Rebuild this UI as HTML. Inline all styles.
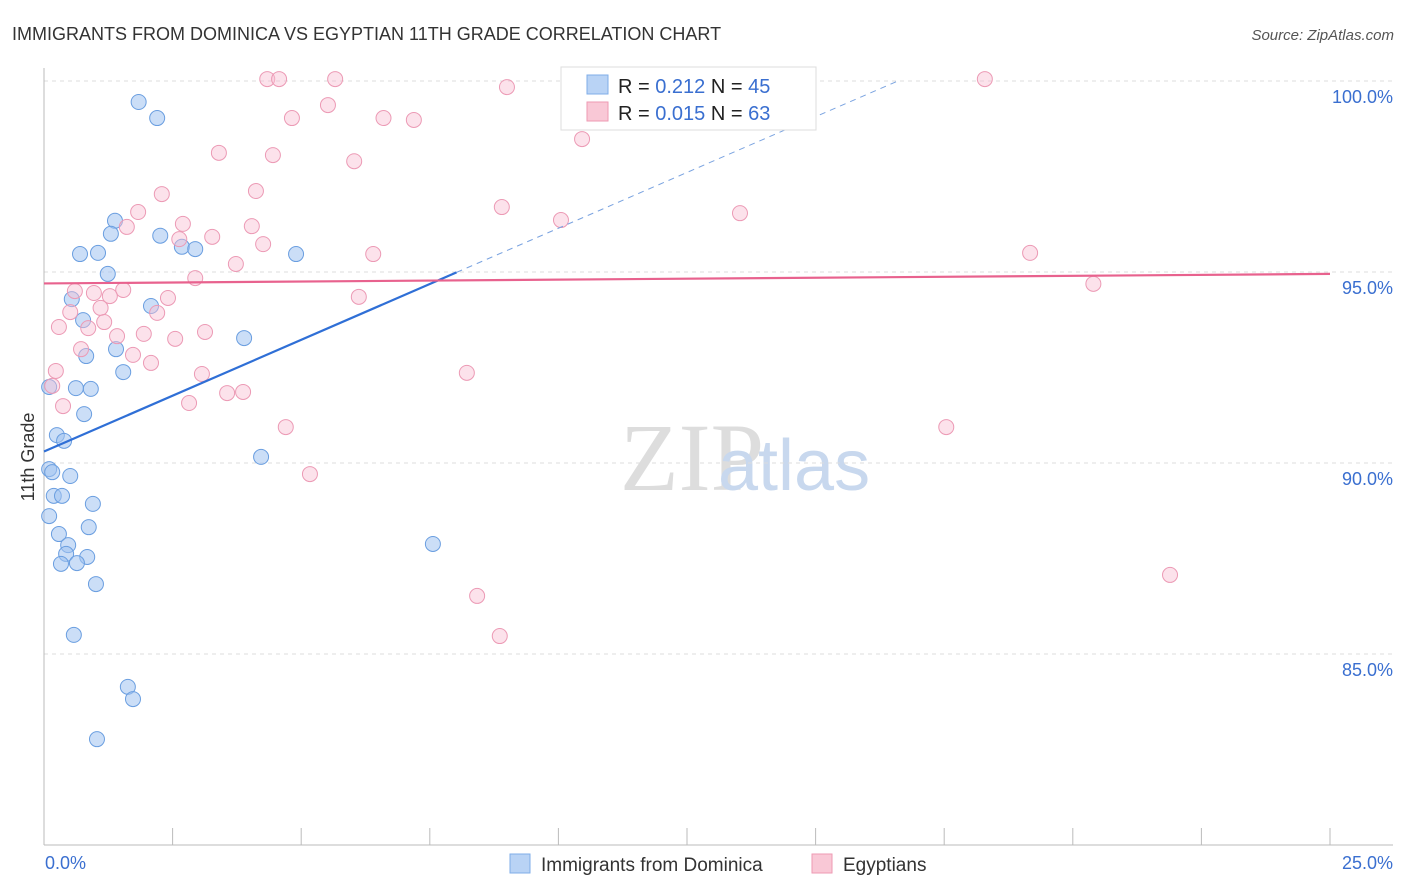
<!DOCTYPE html>
<html><head><meta charset="utf-8"><style>
body{margin:0;background:#fff;font-family:"Liberation Sans",sans-serif;}
#wrap{position:relative;width:1406px;height:892px;overflow:hidden;}
</style></head><body>
<div id="wrap">
<svg id="svg" width="1406" height="892" xmlns="http://www.w3.org/2000/svg">
<text x="12" y="40" font-size="18" fill="#333">IMMIGRANTS FROM DOMINICA VS EGYPTIAN 11TH GRADE CORRELATION CHART</text>
<text x="1394" y="40" font-size="15" fill="#555" font-style="italic" text-anchor="end">Source: ZipAtlas.com</text>
<text x="620" y="490" font-size="96" fill="#ddd" font-family="Liberation Serif,serif">ZIP</text>
<text x="718" y="490" font-size="72" fill="#c8d8ee">atlas</text>
<g id="grid"></g><g id="marks"></g>
<text transform="translate(34,457) rotate(-90)" font-size="18" fill="#333" text-anchor="middle">11th Grade</text>
<text x="45" y="869" font-size="18" fill="#3a6fd0">0.0%</text>
<text x="1393" y="869" font-size="18" fill="#3a6fd0" text-anchor="end">25.0%</text>
<g>
<rect x="561" y="67" width="255" height="63" fill="#fff" stroke="#ddd"/>
<rect x="587" y="75" width="21" height="19" fill="#b9d3f5" stroke="#7faee8"/>
<rect x="587" y="102" width="21" height="19" fill="#f9c8d6" stroke="#ee9ab3"/>
<text x="618" y="93" font-size="20" fill="#222">R = <tspan fill="#3a6fd0">0.212</tspan>   N = <tspan fill="#3a6fd0">45</tspan></text>
<text x="618" y="120" font-size="20" fill="#222">R = <tspan fill="#3a6fd0">0.015</tspan>   N = <tspan fill="#3a6fd0">63</tspan></text>
</g>
<g>
<rect x="510" y="854" width="20" height="19" fill="#b9d3f5" stroke="#7faee8"/>
<text x="541" y="871" font-size="19" fill="#333">Immigrants from Dominica</text>
<rect x="812" y="854" width="20" height="19" fill="#f9c8d6" stroke="#ee9ab3"/>
<text x="843" y="871" font-size="19" fill="#333">Egyptians</text>
</g>
</svg></div>
<script>
const yTicks=[100,95,90,85];
const yTickLabels=["100.0%","95.0%","90.0%","85.0%"];
const xTicks=[0,2.5,5,7.5,10,12.5,15,17.5,20,22.5,25];
const blueX=[1.84,2.2,1.38,1.3,2.26,2.68,2.94,0.7,1.05,4.9,1.24,0.54,2.08,0.76,0.82,1.4,3.89,1.54,0.62,0.91,0.1,0.78,0.25,0.39,0.1,0.16,0.51,0.19,0.35,0.95,0.1,0.87,0.29,0.47,0.43,0.84,0.33,0.64,1.01,4.22,7.56,0.58,1.63,1.73,1.03];
const blueY=[99.45,99.03,96.34,96,95.95,95.66,95.6,95.47,95.5,95.47,94.95,94.29,94.11,93.74,92.8,92.98,93.27,92.38,91.96,91.94,91.99,91.28,90.73,90.58,89.84,89.76,89.66,89.14,89.14,88.93,88.61,88.32,88.14,87.85,87.62,87.54,87.36,87.38,86.83,90.16,87.88,85.5,84.14,83.82,82.77];
const pinkX=[4.34,4.57,5.66,18.29,9.0,5.52,4.82,6.6,7.19,10.46,3.4,4.45,6.03,2.29,4.12,8.9,13.53,1.83,10.05,2.7,1.61,4.04,3.27,2.63,4.26,6.4,19.17,3.73,2.94,20.4,0.6,0.97,1.54,1.28,2.41,6.12,0.51,2.2,1.1,0.29,0.86,1.17,1.42,1.94,3.13,2.55,0.72,1.73,2.08,3.07,8.22,0.23,0.16,3.56,3.87,2.82,0.37,4.7,17.54,5.17,21.89,8.42,8.86];
const pinkY=[100.05,100.05,100.05,100.05,99.84,99.37,99.03,99.03,98.98,98.48,98.12,98.06,97.9,97.04,97.12,96.7,96.54,96.57,96.36,96.26,96.18,96.2,95.92,95.86,95.73,95.47,95.5,95.21,94.84,94.69,94.5,94.45,94.53,94.37,94.32,94.35,93.95,93.93,94.06,93.56,93.53,93.69,93.32,93.38,93.43,93.25,92.98,92.83,92.62,92.33,92.36,92.41,92.02,91.83,91.86,91.57,91.49,90.94,90.94,89.71,87.07,86.52,85.47];
const blueFit=[0,8.02,16.6]; const blueFitY=[90.3,94.99,100];
const pinkFit=[0,25]; const pinkFitY=[94.7,94.95];
const X=v=>44+v*51.44, Y=v=>81+(100-v)*38.2;
const NS="http://www.w3.org/2000/svg";
function mk(t,a,p){const e=document.createElementNS(NS,t);for(const k in a)e.setAttribute(k,a[k]);p.appendChild(e);return e;}
const g=document.getElementById('grid'), m=document.getElementById('marks');
yTicks.forEach((t,i)=>{
 const l=mk('line',{x1:44,x2:1393,y1:Y(t),y2:Y(t),stroke:'#ddd','stroke-dasharray':'4,4'},g);
 
 
 const tx=mk('text',{x:1393,y:Y(t)+22,'font-size':18,fill:'#3a6fd0','text-anchor':'end'},g);
 tx.textContent=yTickLabels[i];
 
 
});
const ax=mk('line',{x1:44,x2:1393,y1:845,y2:845,stroke:'#bbb'},g);


const ay=mk('line',{x1:44,x2:44,y1:68,y2:845,stroke:'#bbb'},g);


xTicks.forEach(t=>{const l=mk('line',{x1:X(t),x2:X(t),y1:828,y2:845,stroke:'#bbb'},g);
 
 });
blueX.forEach((v,i)=>{const c=mk('circle',{cx:X(v),cy:Y(blueY[i]),r:7.5,fill:'rgba(160,195,240,0.55)',stroke:'#6a9ee0','stroke-width':1},m);
 
 });
pinkX.forEach((v,i)=>{const c=mk('circle',{cx:X(v),cy:Y(pinkY[i]),r:7.5,fill:'rgba(248,190,210,0.45)',stroke:'#ec9ab5','stroke-width':1},m);
 
 });
const b1=mk('line',{x1:X(blueFit[0]),y1:Y(blueFitY[0]),x2:X(blueFit[1]),y2:Y(blueFitY[1]),stroke:'#2f6fd6','stroke-width':2.2},m);


const b2=mk('line',{x1:X(blueFit[1]),y1:Y(blueFitY[1]),x2:X(blueFit[2]),y2:Y(blueFitY[2]),stroke:'#7aa3e0','stroke-width':1,'stroke-dasharray':'6,5'},m);


const p1=mk('line',{x1:X(pinkFit[0]),y1:Y(pinkFitY[0]),x2:X(pinkFit[1]),y2:Y(pinkFitY[1]),stroke:'#e8628e','stroke-width':2.2},m);


</script>
</body></html>
